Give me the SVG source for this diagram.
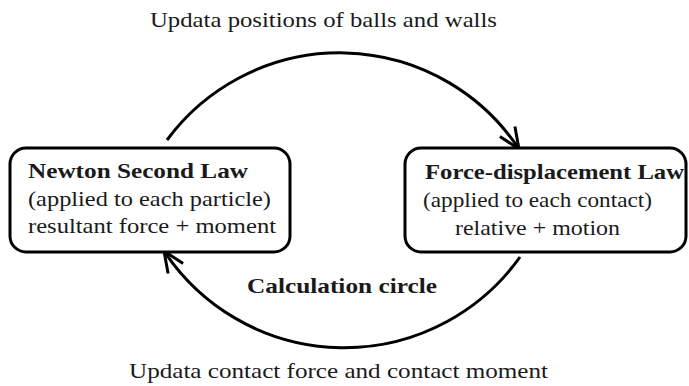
<svg xmlns="http://www.w3.org/2000/svg" width="689" height="386" viewBox="0 0 689 386">
<style>
.t{font-family:"Liberation Serif","Times New Roman",serif;font-size:21px;fill:#1a1a1a}
.b{font-weight:bold}
.box{fill:#fff;stroke:#000;stroke-width:3}
.arc{fill:none;stroke:#000;stroke-width:3}
</style>
<defs>
<marker id="ah" markerUnits="userSpaceOnUse" markerWidth="30" markerHeight="30" refX="0" refY="0" viewBox="-25 -15 30 30" orient="auto" overflow="visible">
<path d="M-21,-9 L0,0 L-21,9" fill="none" stroke="#000" stroke-width="3"/>
</marker>
</defs>
<rect width="689" height="386" fill="#fff"/>
<g id="connectors">
<path class="arc" d="M167,140 A215,215 0 0,1 519,149" marker-end="url(#ah)"/>
<path class="arc" d="M520,257 A216,216 0 0,1 164,251" marker-end="url(#ah)"/>
</g>
<g id="newton">
<rect class="box" x="10" y="148" width="280" height="104" rx="16"/>
<text class="t b" x="28" y="178" textLength="220" lengthAdjust="spacingAndGlyphs">Newton Second Law</text>
<text class="t" x="28" y="206" textLength="243" lengthAdjust="spacingAndGlyphs">(applied to each particle)</text>
<text class="t" x="28" y="233" textLength="248" lengthAdjust="spacingAndGlyphs">resultant force + moment</text>
</g>
<g id="force">
<rect class="box" x="405" y="148" width="281" height="104" rx="16"/>
<text class="t b" x="425" y="179" textLength="259" lengthAdjust="spacingAndGlyphs">Force-displacement Law</text>
<text class="t" x="423" y="207" textLength="229" lengthAdjust="spacingAndGlyphs">(applied to each contact)</text>
<text class="t" x="455" y="235" textLength="165" lengthAdjust="spacingAndGlyphs">relative + motion</text>
</g>
<g id="labels">
<text class="t" x="150" y="27" textLength="347" lengthAdjust="spacingAndGlyphs">Updata positions of balls and walls</text>
<text class="t b" x="247" y="293" textLength="190" lengthAdjust="spacingAndGlyphs">Calculation circle</text>
<text class="t" x="129" y="378" textLength="419" lengthAdjust="spacingAndGlyphs">Updata contact force and contact moment</text>
</g>
</svg>
